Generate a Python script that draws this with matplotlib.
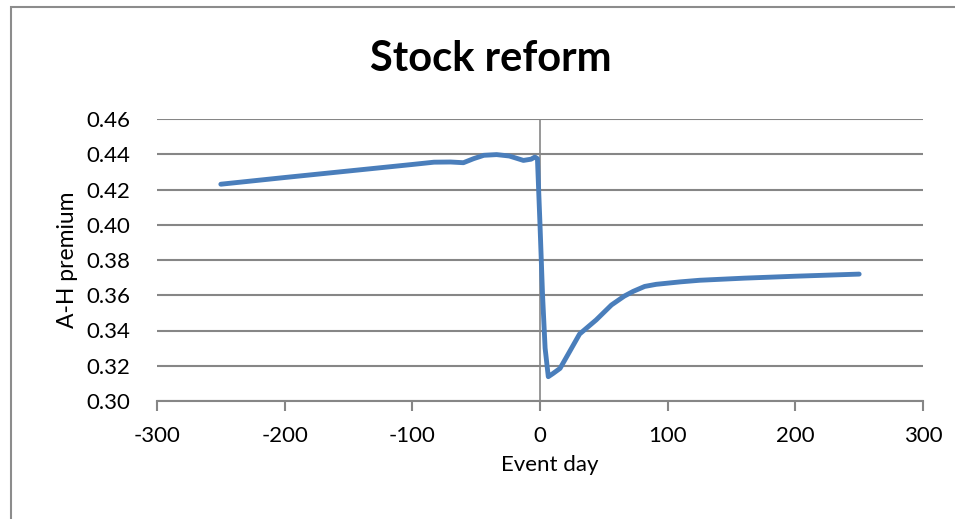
import matplotlib
matplotlib.use("Agg")
import matplotlib.pyplot as plt
from matplotlib.patches import Rectangle

# Data
event_day = [-250, -200, -150, -100, -83, -70, -60, -52, -44, -34, -24, -13, -7, -4, -2, 0, 2, 4, 6.5, 10, 15.7, 22, 31, 44, 56, 66, 73, 82, 91, 110, 125, 160, 200, 250]
premium = [0.423, 0.4268, 0.4305, 0.4342, 0.4355, 0.4356, 0.4352, 0.4375, 0.4394, 0.4398, 0.4390, 0.4365, 0.4372, 0.4384, 0.4375, 0.4000, 0.3600, 0.3300, 0.3138, 0.3155, 0.3185, 0.3265, 0.3380, 0.3460, 0.3545, 0.3595, 0.3622, 0.3650, 0.3662, 0.3676, 0.3685, 0.3697, 0.3708, 0.3720]

x_ticks = [-300, -200, -100, 0, 100, 200, 300]
y_ticks = [0.30, 0.32, 0.34, 0.36, 0.38, 0.40, 0.42, 0.44, 0.46]

title = "Stock reform"
x_label = "Event day"
y_label = "A-H premium"

plt.rcParams['font.family'] = ['Lato', 'DejaVu Sans']

fig = plt.figure(figsize=(9.55, 5.19), dpi=100)
fig.patches.append(Rectangle((11/955, -0.1), 1.2, 1 - 7/519 + 0.1, transform=fig.transFigure,
                             fill=False, edgecolor="#8c8c8c", linewidth=1.5))

ax = fig.add_axes([157/955, 1 - 401/519, (923 - 157)/955, (401 - 119)/519])
grid_c = "#868686"
for y in y_ticks:
    ax.axhline(y, color=grid_c, linewidth=1.5, zorder=1)
ax.axvline(0, color=grid_c, linewidth=1.2, zorder=1)

ax.plot(event_day, premium, color="#4A7EBB", linewidth=3.5, solid_capstyle="round",
        solid_joinstyle="round", zorder=3)

ax.set_xlim(x_ticks[0], x_ticks[-1])
ax.set_ylim(y_ticks[0], y_ticks[-1])
ax.set_xticks(x_ticks)
ax.set_xticklabels([str(t) for t in x_ticks])
ax.set_yticks(y_ticks)
ax.set_yticklabels([f"{t:.2f}" for t in y_ticks])

for s in ["top", "right", "left"]:
    ax.spines[s].set_visible(False)
ax.spines["bottom"].set_color(grid_c)
ax.spines["bottom"].set_linewidth(1.5)
ax.tick_params(axis="x", direction="out", length=7, width=1.5, color=grid_c,
               labelsize=16, pad=11, labelcolor="black")
ax.tick_params(axis="y", length=0, labelsize=16, pad=19, labelcolor="black")

ax.set_xlabel(x_label, fontsize=16, labelpad=7)
ax.xaxis.set_label_coords(0.513, -0.19)
ax.set_ylabel(y_label, fontsize=16.5, labelpad=6)
fig.text(491/955, 1 - 59/519, title, fontsize=30, fontweight="bold", ha="center", va="center")

fig.savefig("out.png", dpi=100, facecolor="white")
